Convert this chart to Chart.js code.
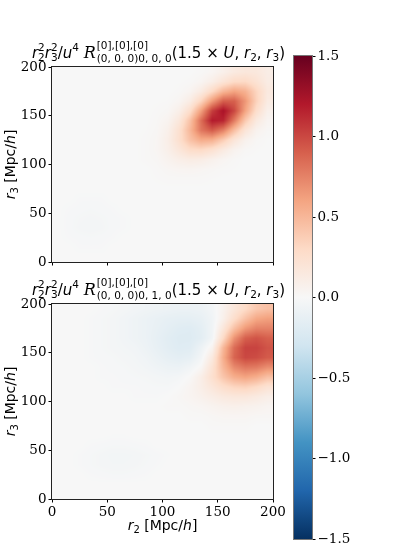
<!DOCTYPE html>
<html>
<head>
<meta charset="utf-8">
<script src="https://cdn.jsdelivr.net/npm/chart.js@4.4.1/dist/chart.umd.min.js"></script>
<style>
    html, body { margin: 0; padding: 0; background: #fff; }
    #wrap { position: relative; width: 420px; height: 560px; }
    #wrap canvas { position: absolute; left: 0; top: 0; }
</style>
</head>
<body>
<div id="wrap">
    <canvas id="topChart" width="420" height="560"></canvas>
    <canvas id="bottomChart" width="420" height="560"></canvas>
    <canvas id="cbarChart" width="420" height="560"></canvas>
</div>
<script>
// cell centres of the grids (Mpc/h)
const r2Centers = [5, 15, 25, 35, 45, 55, 65, 75, 85, 95, 105, 115, 125, 135, 145, 155, 165, 175, 185, 195];
const r3Centers = [5, 15, 25, 35, 45, 55, 65, 75, 85, 95, 105, 115, 125, 135, 145, 155, 165, 175, 185, 195];
const axisTicks = [0, 50, 100, 150, 200];
const cbarTicks = [-1.5, -1.0, -0.5, 0.0, 0.5, 1.0, 1.5];

// R_(0,0,0)0,0,0 ; rows go from r3 = 5 (first) to r3 = 195 (last)
const panelTop = [
    [0, 0, 0, 0, 0, 0, 0, 0, 0, 0, 0, 0, 0, 0, 0, 0, 0, 0, 0, 0],
    [0, 0, -0.01, -0.01, -0.01, 0, 0, 0, 0, 0, 0, 0, 0, 0, 0, 0, 0, 0, 0, 0],
    [0, -0.01, -0.015, -0.02, -0.015, -0.01, 0, 0, 0, 0, 0, 0, 0, 0, 0, 0, 0, 0, 0, 0],
    [0, -0.015, -0.03, -0.035, -0.03, -0.015, -0.01, 0, 0, 0, 0, 0, 0, 0, 0, 0, 0, 0, 0, 0],
    [0, -0.015, -0.025, -0.03, -0.025, -0.015, -0.01, 0, 0, 0, 0, 0, 0, 0, 0, 0, 0, 0, 0, 0],
    [0, -0.01, -0.015, -0.02, -0.015, -0.01, 0, 0, 0, 0, 0, 0, 0, 0, 0, 0, 0, 0, 0, 0],
    [0, 0, -0.01, -0.01, -0.01, 0, 0, 0, 0, 0, 0, 0, 0, 0, 0, 0, 0, 0, 0, 0],
    [0, 0, 0, 0, 0, 0, 0, 0, 0, 0, 0, 0, 0, 0, 0, 0, 0, 0, 0, 0],
    [0, 0, 0, 0, 0, 0, 0, 0, 0, 0.005, 0.01, 0.01, 0.01, 0.01, 0.005, 0, 0, 0, 0, 0],
    [0, 0, 0, 0, 0, 0, 0, 0, 0, 0.01, 0.025, 0.035, 0.04, 0.03, 0.02, 0.01, 0.005, 0, 0, 0],
    [0, 0, 0, 0, 0, 0, 0, 0, 0.01, 0.02, 0.055, 0.095, 0.12, 0.11, 0.07, 0.034, 0.012, 0, 0, 0],
    [0, 0, 0, 0, 0, 0, 0, 0, 0.01, 0.03, 0.087, 0.18, 0.28, 0.30, 0.24, 0.14, 0.055, 0.016, 0.005, 0],
    [0, 0, 0, 0, 0, 0, 0, 0, 0.01, 0.028, 0.10, 0.25, 0.44, 0.56, 0.54, 0.38, 0.19, 0.066, 0.017, 0.003],
    [0, 0, 0, 0, 0, 0, 0, 0, 0.005, 0.02, 0.08, 0.24, 0.50, 0.80, 0.92, 0.76, 0.46, 0.20, 0.06, 0.017],
    [0, 0, 0, 0, 0, 0, 0, 0, 0, 0.015, 0.048, 0.17, 0.44, 0.84, 1.19, 1.15, 0.78, 0.40, 0.15, 0.04],
    [0, 0, 0, 0, 0, 0, 0, 0, 0, 0.008, 0.021, 0.09, 0.27, 0.62, 1.04, 1.24, 1.00, 0.60, 0.27, 0.08],
    [0, 0, 0, 0, 0, 0, 0, 0, 0, 0.002, 0.006, 0.033, 0.12, 0.33, 0.64, 0.90, 0.90, 0.66, 0.35, 0.13],
    [0, 0, 0, 0, 0, 0, 0, 0, 0, 0, 0, 0.009, 0.04, 0.13, 0.30, 0.50, 0.60, 0.53, 0.33, 0.15],
    [0, 0, 0, 0, 0, 0, 0, 0, 0, 0, 0, 0.002, 0.009, 0.035, 0.10, 0.20, 0.29, 0.30, 0.22, 0.12],
    [0, 0, 0, 0, 0, 0, 0, 0, 0, 0, 0, 0, 0, 0.01, 0.03, 0.08, 0.14, 0.17, 0.16, 0.11]
];

// R_(0,0,0)0,1,0
const panelBottom = [
    [0, 0, 0, 0, 0, 0, 0, 0, 0, 0, 0, 0, 0, 0, 0, 0, 0, 0, 0, 0],
    [0, 0, 0, 0, 0, 0, 0, 0, 0, 0, 0, 0, 0, 0, 0, 0, 0, 0, 0, 0],
    [0, 0, 0, -0.01, -0.015, -0.02, -0.02, -0.015, -0.01, 0, 0, 0, 0, 0, 0, 0, 0, 0, 0, 0],
    [0, 0, -0.01, -0.02, -0.03, -0.035, -0.035, -0.03, -0.02, -0.01, 0, 0, 0, 0, 0, 0, 0, 0, 0, 0],
    [0, 0, -0.01, -0.02, -0.03, -0.04, -0.04, -0.035, -0.025, -0.015, -0.005, 0, 0, 0, 0, 0, 0, 0, 0, 0],
    [0, 0, 0, -0.01, -0.015, -0.02, -0.02, -0.015, -0.01, 0, 0, 0, 0, 0, 0, 0, 0, 0, 0, 0],
    [0, 0, 0, 0, 0, -0.005, -0.005, 0, 0, 0, 0, 0, 0, 0, 0, 0, 0, 0, 0, 0],
    [0, 0, 0, 0, 0, 0, 0, 0, 0, 0, 0, 0, 0, 0, 0.01, 0.01, 0.01, 0.01, 0, 0],
    [0, 0, 0, 0, 0, 0, 0, 0, 0, 0, 0, 0, 0.01, 0.01, 0.02, 0.03, 0.03, 0.03, 0.02, 0.02],
    [0, 0, 0, 0, 0, 0, 0, 0, 0, 0, 0.01, 0.01, 0.02, 0.03, 0.05, 0.07, 0.08, 0.07, 0.06, 0.04],
    [0, 0, 0, 0, 0, 0, 0, -0.01, -0.01, -0.01, 0, 0.02, 0.04, 0.07, 0.11, 0.15, 0.17, 0.17, 0.14, 0.10],
    [0, 0, 0, 0, 0, -0.01, -0.01, -0.01, -0.015, -0.02, -0.02, 0, 0.04, 0.10, 0.18, 0.27, 0.33, 0.35, 0.30, 0.22],
    [0, 0, 0, 0, -0.01, -0.01, -0.015, -0.02, -0.025, -0.035, -0.045, -0.03, 0.01, 0.10, 0.25, 0.42, 0.55, 0.60, 0.55, 0.45],
    [0, 0, 0, 0, -0.01, -0.015, -0.02, -0.03, -0.045, -0.065, -0.085, -0.09, -0.05, 0.02, 0.22, 0.50, 0.72, 0.80, 0.78, 0.70],
    [0, 0, 0, -0.01, -0.015, -0.02, -0.03, -0.04, -0.06, -0.095, -0.13, -0.15, -0.13, -0.04, 0.15, 0.55, 0.88, 1.00, 0.98, 0.92],
    [0, 0, 0, -0.01, -0.02, -0.03, -0.04, -0.05, -0.08, -0.12, -0.16, -0.19, -0.18, -0.08, 0.05, 0.50, 0.85, 1.02, 1.02, 0.95],
    [0, 0, 0, -0.01, -0.02, -0.03, -0.05, -0.07, -0.09, -0.13, -0.17, -0.20, -0.20, -0.16, -0.05, 0.30, 0.68, 0.90, 0.95, 0.90],
    [0, 0, 0, -0.01, -0.02, -0.03, -0.05, -0.07, -0.09, -0.12, -0.15, -0.18, -0.19, -0.15, -0.06, 0.18, 0.45, 0.65, 0.75, 0.75],
    [0, 0, 0, -0.01, -0.02, -0.03, -0.05, -0.07, -0.09, -0.11, -0.13, -0.14, -0.14, -0.12, -0.06, 0.08, 0.27, 0.44, 0.58, 0.62],
    [0, 0, 0, 0, -0.01, -0.02, -0.03, -0.045, -0.06, -0.07, -0.08, -0.09, -0.09, -0.08, -0.04, 0.06, 0.18, 0.29, 0.40, 0.45]
];

const VMIN = -1.5, VMAX = 1.5;
// RdBu_r
const cmapStops = [
    [5, 48, 97], [33, 102, 172], [67, 147, 195], [146, 197, 222], [209, 229, 240], [247, 247, 247],
    [253, 219, 199], [244, 165, 130], [214, 96, 77], [178, 24, 43], [103, 0, 31]
];

function cmap(v) {
    let t = (v - VMIN) / (VMAX - VMIN);
    t = Math.min(Math.max(t, 0), 1) * (cmapStops.length - 1);
    const i = Math.min(Math.floor(t), cmapStops.length - 2);
    const f = t - i;
    const a = cmapStops[i], b = cmapStops[i + 1];
    return [0, 1, 2].map(k => Math.round(a[k] + (b[k] - a[k]) * f));
}

const SANS = '"DejaVu Sans"';
const SERIF = 'DejaVu Serif';

function fontOf(p) {
    return (p.it ? 'italic ' : '') + (p.sz || 15) + 'px ' + (p.fam || SANS);
}

function pieceWidth(ctx, p) {
    if (p.stack) return Math.max(...p.stack.map(q => pieceWidth(ctx, q)));
    ctx.font = fontOf(p);
    return ctx.measureText(p.t).width + (p.pad || 0);
}

// draws a row of mathtext-like pieces, centred on x
function drawMath(ctx, pieces, x, y) {
    const total = pieces.reduce((s, p) => s + pieceWidth(ctx, p), 0);
    let cx = x - total / 2;
    ctx.fillStyle = '#000';
    ctx.textAlign = 'left';
    ctx.textBaseline = 'alphabetic';
    pieces.forEach(p => {
        const parts = p.stack ? p.stack : [p];
        parts.forEach(q => {
            ctx.font = fontOf(q);
            ctx.fillText(q.t, cx, y + (q.dy || 0));
        });
        cx += pieceWidth(ctx, p);
    });
}

function titlePieces(lowerIdx) {
    return [
        { t: 'r', it: 1 },
        { stack: [{ t: '2', sz: 10.5, dy: -7 }, { t: '2', sz: 10.5, dy: 3 }] },
        { t: 'r', it: 1 },
        { stack: [{ t: '2', sz: 10.5, dy: -7 }, { t: '3', sz: 10.5, dy: 3 }] },
        { t: '/' }, { t: 'u', it: 1 },
        { t: '4', sz: 10.5, dy: -7 },
        { t: ' ' },
        { t: 'R', it: 1, sz: 16, fam: '"DejaVu Serif"', pad: 1 },
        { stack: [{ t: '[0],[0],[0]', sz: 10.5, dy: -9 }, { t: '(0, 0, 0)' + lowerIdx, sz: 10.5, dy: 4 }] },
        { t: '(1.5 \u00D7 ' }, { t: 'U', it: 1 }, { t: ', ' }, { t: 'r', it: 1 },
        { t: '2', sz: 10.5, dy: 3 }, { t: ', ' }, { t: 'r', it: 1 }, { t: '3', sz: 10.5, dy: 3 }, { t: ')' }
    ];
}

function labelPieces(sub) {
    return [
        { t: 'r', it: 1, sz: 14 }, { t: sub, sz: 10, dy: 3 },
        { t: ' [Mpc/', sz: 14 }, { t: 'h', it: 1, sz: 14 }, { t: ']', sz: 14 }
    ];
}

function heatmapPlugin(grid) {
    return {
        id: 'heatmap',
        beforeDatasetsDraw(chart) {
            const { ctx, chartArea: a, scales: { x, y } } = chart;
            const w = Math.round(a.right - a.left), h = Math.round(a.bottom - a.top);
            const off = document.createElement('canvas');
            off.width = w; off.height = h;
            const octx = off.getContext('2d');
            const img = octx.createImageData(w, h);
            const nx = r2Centers.length, ny = r3Centers.length;
            const dx = r2Centers[1] - r2Centers[0], dy = r3Centers[1] - r3Centers[0];
            for (let py = 0; py < h; py++) {
                const yv = y.getValueForPixel(a.top + py + 0.5);
                let fy = (yv - r3Centers[0]) / dy;
                fy = Math.min(Math.max(fy, 0), ny - 1);
                const j0 = Math.min(Math.floor(fy), ny - 2), ty = fy - j0;
                for (let px = 0; px < w; px++) {
                    const xv = x.getValueForPixel(a.left + px + 0.5);
                    let fx = (xv - r2Centers[0]) / dx;
                    fx = Math.min(Math.max(fx, 0), nx - 1);
                    const i0 = Math.min(Math.floor(fx), nx - 2), tx = fx - i0;
                    const v = (grid[j0][i0] * (1 - tx) + grid[j0][i0 + 1] * tx) * (1 - ty) +
                              (grid[j0 + 1][i0] * (1 - tx) + grid[j0 + 1][i0 + 1] * tx) * ty;
                    const c = cmap(v);
                    const k = (py * w + px) * 4;
                    img.data[k] = c[0]; img.data[k + 1] = c[1]; img.data[k + 2] = c[2]; img.data[k + 3] = 255;
                }
            }
            octx.putImageData(img, 0, 0);
            ctx.drawImage(off, a.left, a.top);
        }
    };
}

function textPlugin(lowerIdx, showXLabel) {
    return {
        id: 'mathText',
        afterDraw(chart) {
            const { ctx, chartArea: a } = chart;
            // frame
            ctx.save();
            ctx.strokeStyle = '#222';
            ctx.lineWidth = 1;
            ctx.strokeRect(Math.round(a.left) - 0.5, Math.round(a.top) - 0.5, Math.round(a.right - a.left) + 1, Math.round(a.bottom - a.top) + 1);
            const cx = (a.left + a.right) / 2;
            drawMath(ctx, titlePieces(lowerIdx), cx - 4, a.top - 9);
            ctx.save();
            ctx.translate(14.5, (a.top + a.bottom) / 2);
            ctx.rotate(-Math.PI / 2);
            drawMath(ctx, labelPieces('3'), 0, 0);
            ctx.restore();
            if (showXLabel) drawMath(ctx, labelPieces('2'), cx, a.bottom + 31);
            ctx.restore();
        }
    };
}

function makeHeatmap(id, grid, top, lowerIdx, showXLabels) {
    const left = 52, right = 273, bottom = top + 195, xh = 30;
    return new Chart(document.getElementById(id), {
        type: 'scatter',
        data: { datasets: [] },
        options: {
            responsive: false, animation: false,
            layout: { padding: { left: 0, top: top, right: 420 - right, bottom: 560 - bottom - xh } },
            plugins: { legend: { display: false }, tooltip: { enabled: false }, title: { display: false } },
            scales: {
                x: {
                    type: 'linear', min: axisTicks[0], max: axisTicks[axisTicks.length - 1],
                    afterBuildTicks: s => { s.ticks = axisTicks.map(v => ({ value: v })); },
                    afterFit: s => { s.height = xh; },
                    grid: { drawOnChartArea: false, drawTicks: true, tickLength: 3.5, tickColor: '#000', tickWidth: 1 },
                    border: { display: false },
                    ticks: { display: showXLabels, autoSkip: false, maxRotation: 0, padding: 2, color: '#000', font: { family: SERIF, size: 13.5 } }
                },
                y: {
                    type: 'linear', min: axisTicks[0], max: axisTicks[axisTicks.length - 1],
                    afterBuildTicks: s => { s.ticks = axisTicks.map(v => ({ value: v })); },
                    afterFit: s => { s.width = left; },
                    grid: { drawOnChartArea: false, drawTicks: true, tickLength: 3.5, tickColor: '#000', tickWidth: 1 },
                    border: { display: false },
                    ticks: { autoSkip: false, padding: 2, color: '#000', font: { family: SERIF, size: 13.5 } }
                }
            }
        },
        plugins: [heatmapPlugin(grid), textPlugin(lowerIdx, showXLabels)]
    });
}

makeHeatmap('topChart', panelTop, 67, '0, 0, 0', false);
makeHeatmap('bottomChart', panelBottom, 304, '0, 1, 0', true);

const colorbarPlugin = {
    id: 'colorbar',
    beforeDatasetsDraw(chart) {
        const { ctx, chartArea: a, scales: { y } } = chart;
        const g = ctx.createLinearGradient(0, y.getPixelForValue(VMIN), 0, y.getPixelForValue(VMAX));
        cmapStops.forEach((c, i) => g.addColorStop(i / (cmapStops.length - 1), `rgb(${c[0]},${c[1]},${c[2]})`));
        ctx.fillStyle = g;
        ctx.fillRect(a.left, y.getPixelForValue(VMAX), a.right - a.left, y.getPixelForValue(VMIN) - y.getPixelForValue(VMAX));
    },
    afterDraw(chart) {
        const { ctx, chartArea: a } = chart;
        ctx.save();
        ctx.strokeStyle = '#777';
        ctx.lineWidth = 1;
        ctx.strokeRect(Math.round(a.left) - 0.5, Math.round(a.top) - 0.5, Math.round(a.right - a.left) + 1, Math.round(a.bottom - a.top) + 1);
        ctx.restore();
    }
};

new Chart(document.getElementById('cbarChart'), {
    type: 'scatter',
    data: { datasets: [] },
    options: {
        responsive: false, animation: false,
        layout: { padding: { left: 294, top: 56, right: 420 - 312 - 50, bottom: 560 - 539 } },
        plugins: { legend: { display: false }, tooltip: { enabled: false } },
        scales: {
            x: { display: false, min: 0, max: 1 },
            y: {
                position: 'right', min: VMIN, max: VMAX,
                afterBuildTicks: s => { s.ticks = cbarTicks.map(v => ({ value: v })); },
                afterFit: s => { s.width = 50; },
                grid: { drawOnChartArea: false, drawTicks: true, tickLength: 3.5, tickColor: '#000', tickWidth: 1 },
                border: { display: false },
                ticks: {
                    padding: 2, color: '#000', font: { family: SERIF, size: 13.5 },
                    callback: v => v.toFixed(1).replace('-', '\u2212')
                }
            }
        }
    },
    plugins: [colorbarPlugin]
});
</script>
</body>
</html>
